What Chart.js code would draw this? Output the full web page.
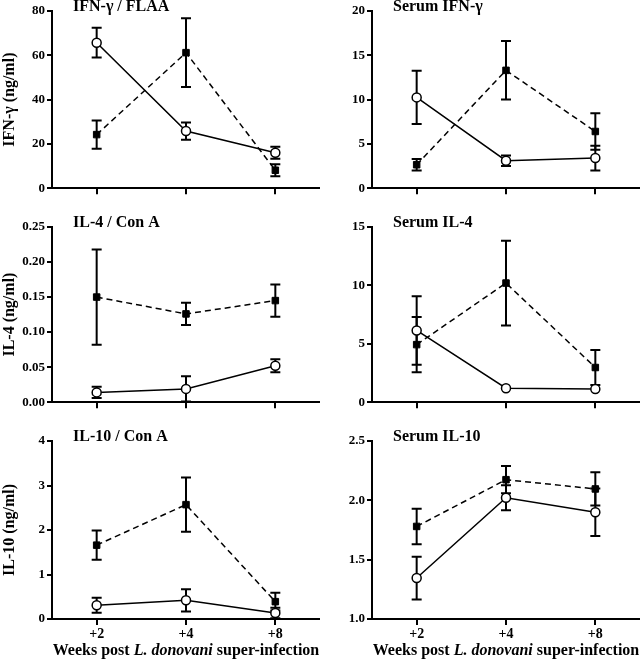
<!DOCTYPE html>
<html>
<head>
<meta charset="utf-8">
<script src="https://cdn.jsdelivr.net/npm/chart.js@4.4.0/dist/chart.umd.min.js"></script>
<style>
body{margin:0;background:#fff;width:640px;height:663px;position:relative;overflow:hidden}
.p{position:absolute}
</style>
</head>
<body>
<div class="p" style="left:0;top:0;width:320px;height:198px"><canvas id="c1"></canvas></div>
<div class="p" style="left:320px;top:0;width:320px;height:198px"><canvas id="c2"></canvas></div>
<div class="p" style="left:0;top:211px;width:320px;height:201px"><canvas id="c3"></canvas></div>
<div class="p" style="left:320px;top:211px;width:320px;height:201px"><canvas id="c4"></canvas></div>
<div class="p" style="left:0;top:425px;width:320px;height:238px"><canvas id="c5"></canvas></div>
<div class="p" style="left:320px;top:425px;width:320px;height:238px"><canvas id="c6"></canvas></div>
<script>
// weeks after super-infection
const weeks = ['+2', '+4', '+8'];

// open circles, solid line  /  filled squares, dashed line
const ifnFlaaOpen = [65.7, 25.8, 16.0];
const ifnFlaaOpenErr = [6.7, 3.9, 2.7];
const ifnFlaaFilled = [24.2, 61.2, 8.1];
const ifnFlaaFilledErr = [6.4, 15.5, 2.7];

const serumIfnOpen = [10.25, 3.1, 3.4];
const serumIfnOpenErr = [3.0, 0.6, 1.4];
const serumIfnFilled = [2.65, 13.3, 6.4];
const serumIfnFilledErr = [0.65, 3.3, 2.05];

const il4ConaOpen = [0.014, 0.019, 0.052];
const il4ConaOpenErr = [0.008, 0.018, 0.0094];
const il4ConaFilled = [0.150, 0.126, 0.145];
const il4ConaFilledErr = [0.068, 0.016, 0.023];

const serumIl4Open = [6.14, 1.2, 1.12];
const serumIl4OpenErr = [2.93, 0, 0];
const serumIl4Filled = [4.93, 10.2, 2.97];
const serumIl4FilledErr = [2.37, 3.63, 1.49];

const il10ConaOpen = [0.31, 0.42, 0.135];
const il10ConaOpenErr = [0.17, 0.25, 0.12];
const il10ConaFilled = [1.66, 2.57, 0.39];
const il10ConaFilledErr = [0.33, 0.61, 0.2];

const serumIl10Open = [1.345, 2.022, 1.9];
const serumIl10OpenErr = [0.18, 0.105, 0.2];
const serumIl10Filled = [1.78, 2.174, 2.096];
const serumIl10FilledErr = [0.15, 0.115, 0.14];

const serif = 'Liberation Serif, Times New Roman, serif';

// draws the error bars and the panel texts
const extras = {
  id: 'extras',
  beforeDatasetsDraw(chart) {
    const ctx = chart.ctx, ys = chart.scales.y;
    ctx.save();
    ctx.strokeStyle = '#000';
    ctx.lineWidth = 2;
    chart.data.datasets.forEach((ds, i) => {
      const meta = chart.getDatasetMeta(i);
      meta.data.forEach((pt, j) => {
        const e = ds.errors[j];
        if (!e) return;
        const top = ys.getPixelForValue(ds.data[j] + e);
        const bot = ys.getPixelForValue(ds.data[j] - e);
        ctx.beginPath();
        ctx.moveTo(pt.x, top); ctx.lineTo(pt.x, bot);
        ctx.moveTo(pt.x - 5, top); ctx.lineTo(pt.x + 5, top);
        ctx.moveTo(pt.x - 5, bot); ctx.lineTo(pt.x + 5, bot);
        ctx.stroke();
      });
    });
    ctx.restore();
  },
  afterDraw(chart) {
    const ctx = chart.ctx, a = chart.chartArea, o = chart.options.plugins.extras;
    ctx.save();
    ctx.fillStyle = '#000';
    ctx.textBaseline = 'middle';
    ctx.font = 'bold 16px ' + serif;
    ctx.fillText(o.title, a.left + 21, a.top - 4);
    if (o.xTitle) {
      const parts = [['bold ', 'Weeks post '], ['italic bold ', 'L. donovani'], ['bold ', ' super-infection']];
      let w = 0;
      parts.forEach(p => { ctx.font = p[0] + '16px ' + serif; w += ctx.measureText(p[1]).width; });
      let x = (a.left + a.right) / 2 - w / 2;
      parts.forEach(p => {
        ctx.font = p[0] + '16px ' + serif;
        ctx.fillText(p[1], x, a.bottom + 32);
        x += ctx.measureText(p[1]).width;
      });
    }
    ctx.restore();
  }
};

function makePanel(id, title, yTitle, min, max, step, dec, openVals, openErr, filledVals, filledErr, topPad, bottom) {
  new Chart(document.getElementById(id), {
    type: 'line',
    data: {
      labels: weeks,
      datasets: [
        {
          data: openVals, errors: openErr,
          borderColor: '#000', borderWidth: 1.5,
          pointStyle: 'circle', pointRadius: 4.5,
          pointBackgroundColor: '#fff', pointBorderColor: '#000', pointBorderWidth: 1.5
        },
        {
          data: filledVals, errors: filledErr,
          borderColor: '#000', borderWidth: 1.5, borderDash: [6, 4],
          pointStyle: 'rect', pointRadius: 4.6,
          pointBackgroundColor: '#000', pointBorderColor: '#000', pointBorderWidth: 1
        }
      ]
    },
    options: {
      responsive: true,
      maintainAspectRatio: false,
      animation: false,
      layout: { autoPadding: false, padding: { top: topPad, right: 0, left: 0, bottom: 0 } },
      plugins: {
        legend: { display: false },
        tooltip: { enabled: false },
        extras: { title: title, xTitle: bottom }
      },
      scales: {
        x: {
          type: 'category',
          offset: true,
          ticks: { display: bottom, color: '#000', padding: 1, font: { family: serif, weight: 'bold', size: 14 } },
          grid: { drawOnChartArea: false, drawTicks: true, tickLength: 6, color: '#000', lineWidth: 2 },
          border: { color: '#000', width: 2 },
          afterFit: s => { s.height = bottom ? 44 : 8; }
        },
        y: {
          min: min, max: max,
          ticks: {
            stepSize: step, color: '#000', padding: 2,
            font: { family: serif, weight: 'bold', size: 13 },
            callback: v => v.toFixed(dec)
          },
          grid: { drawOnChartArea: false, drawTicks: true, tickLength: 5, color: '#000', lineWidth: 2 },
          border: { color: '#000', width: 2 },
          title: { display: !!yTitle, text: yTitle, color: '#000', padding: 0, font: { family: serif, weight: 'bold', size: 16 } },
          afterFit: s => { s.width = 52; }
        }
      }
    },
    plugins: [extras]
  });
}

makePanel('c1', 'IFN-γ / FLAA', 'IFN-γ (ng/ml)', 0, 80, 20, 0, ifnFlaaOpen, ifnFlaaOpenErr, ifnFlaaFilled, ifnFlaaFilledErr, 11, false);
makePanel('c2', 'Serum IFN-γ', '', 0, 20, 5, 0, serumIfnOpen, serumIfnOpenErr, serumIfnFilled, serumIfnFilledErr, 11, false);
makePanel('c3', 'IL-4 / Con A', 'IL-4 (ng/ml)', 0, 0.25, 0.05, 2, il4ConaOpen, il4ConaOpenErr, il4ConaFilled, il4ConaFilledErr, 16, false);
makePanel('c4', 'Serum IL-4', '', 0, 15, 5, 0, serumIl4Open, serumIl4OpenErr, serumIl4Filled, serumIl4FilledErr, 16, false);
makePanel('c5', 'IL-10 / Con A', 'IL-10 (ng/ml)', 0, 4, 1, 0, il10ConaOpen, il10ConaOpenErr, il10ConaFilled, il10ConaFilledErr, 16, true);
makePanel('c6', 'Serum IL-10', '', 1, 2.5, 0.5, 1, serumIl10Open, serumIl10OpenErr, serumIl10Filled, serumIl10FilledErr, 16, true);
</script>
</body>
</html>
